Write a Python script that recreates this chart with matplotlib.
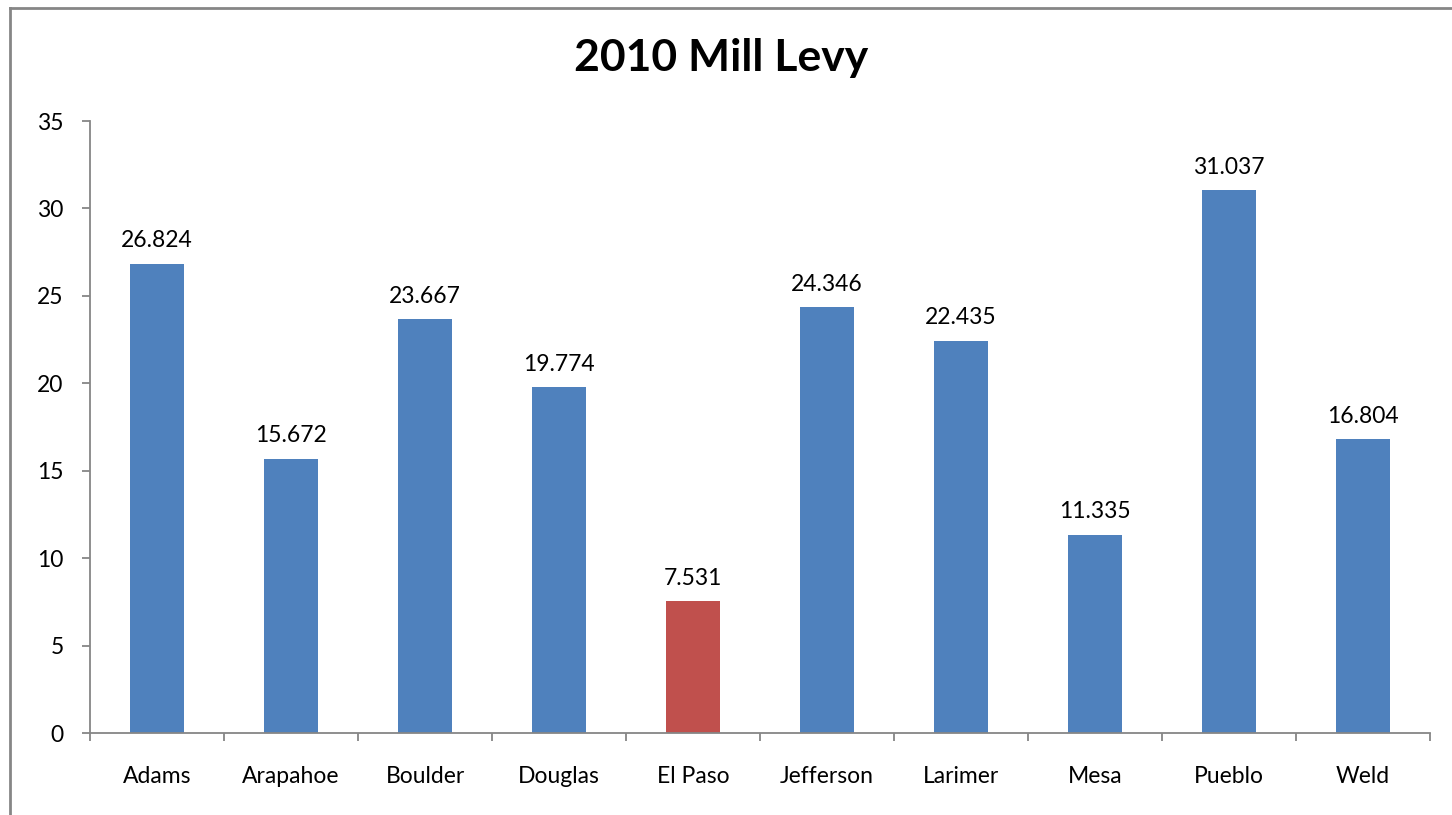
import matplotlib
matplotlib.use("Agg")
import matplotlib.pyplot as plt
from matplotlib.lines import Line2D

counties = ["Adams", "Arapahoe", "Boulder", "Douglas", "El Paso",
            "Jefferson", "Larimer", "Mesa", "Pueblo", "Weld"]
mill_levy = [26.824, 15.672, 23.667, 19.774, 7.531,
             24.346, 22.435, 11.335, 31.037, 16.804]
highlight = "El Paso"
y_ticks = [0, 5, 10, 15, 20, 25, 30, 35]

blue = "#4F81BD"
red = "#C0504D"
axis_gray = "#868686"
label_size = 16.5

plt.rcParams["font.family"] = ["Lato", "DejaVu Sans"]

fig = plt.figure(figsize=(14.52, 8.15), dpi=100)
ax = fig.add_axes([90 / 1452, 1 - 733 / 815, 1340 / 1452, (733 - 121) / 815])

# chart-area frame: left and top edges
fx = 9.5 / 1452
fy = 1 - 7.5 / 815
fig.lines.append(Line2D([fx, fx], [0, fy], transform=fig.transFigure,
                        color=axis_gray, linewidth=2))
fig.lines.append(Line2D([fx, 1], [fy, fy], transform=fig.transFigure,
                        color=axis_gray, linewidth=2))

x = list(range(len(counties)))
colors = [red if c == highlight else blue for c in counties]
ax.bar(x, mill_levy, width=0.4, color=colors, zorder=2)

for xi, v in zip(x, mill_levy):
    ax.annotate(f"{v:.3f}", (xi, v), xytext=(0, 9), textcoords="offset points",
                ha="center", va="bottom", fontsize=label_size, color="black")

ax.set_xlim(-0.5, len(counties) - 0.5)
ax.set_ylim(0, 35)
ax.set_yticks(y_ticks)
ax.set_yticklabels([str(t) for t in y_ticks], fontsize=label_size)

ax.set_xticks(x)
ax.set_xticklabels(counties, fontsize=label_size)
ax.tick_params(axis="x", length=0, pad=24)
ax.set_xticks([i - 0.5 for i in range(len(counties) + 1)], minor=True)
ax.tick_params(axis="x", which="minor", length=6, width=1.3, color=axis_gray)
ax.tick_params(axis="y", length=6, width=1.3, color=axis_gray, pad=13)

for side in ["top", "right"]:
    ax.spines[side].set_visible(False)
for side in ["left", "bottom"]:
    ax.spines[side].set_color(axis_gray)
    ax.spines[side].set_linewidth(1.3)

fig.text(721 / 1452, 1 - 58 / 815, "2010 Mill Levy", ha="center", va="center",
         fontsize=32, fontweight="bold")

fig.savefig("out.png", dpi=100)
